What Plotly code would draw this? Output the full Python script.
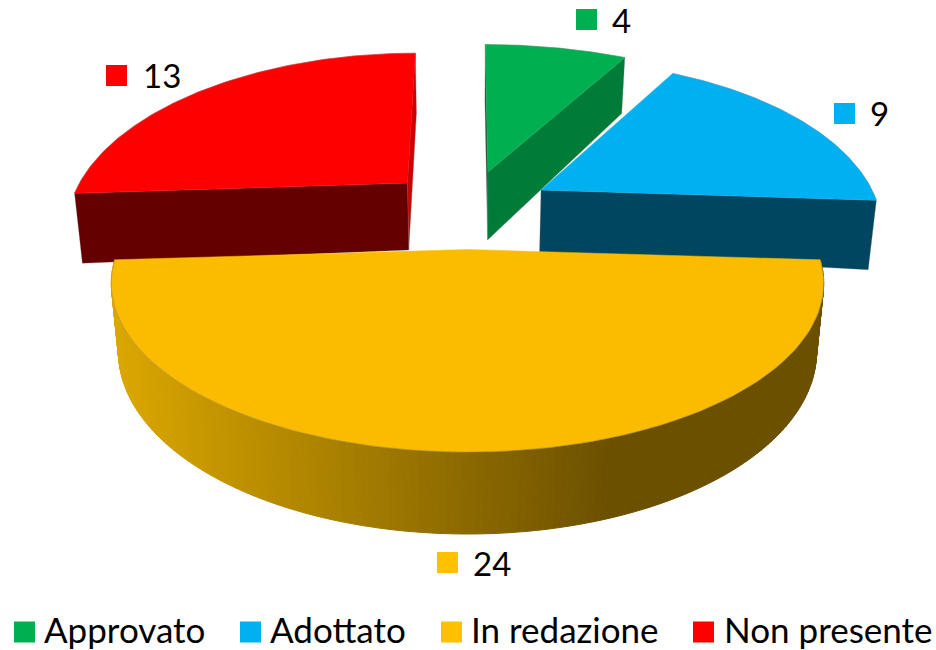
import numpy as np
import plotly.graph_objects as go

categories = ["Approvato", "Adottato", "In redazione", "Non presente"]
values = [4, 9, 24, 13]
top_colors = ["#00B050", "#00B0F0", "#FBBC00", "#FF0000"]
key_colors = ["#00B050", "#00B0F0", "#FFC000", "#FF0000"]
side_colors = ["#007C38", "#004660", None, "#640000"]

# Projection of each (exploded) slice: centre, radii, perspective, vertical-edge lean
geo = {
    "Approvato":    dict(cx=488.0, cy=172.0, R=350, H=158, k=0.24, s=-3.4),
    "Adottato":     dict(cx=541.0, cy=190.0, R=331, H=161, k=0.24, s=0.0),
    "In redazione": dict(cx=467.5, cy=249.5, R=349, H=162, k=0.20, s=0.0),
    "Non presente": dict(cx=407.5, cy=183.0, R=328, H=161, k=0.24, s=9.7),
}
LEAN = 0.02
VX = 467.0

total = sum(values)
ends = np.cumsum(values) / total * 2 * np.pi
starts = np.concatenate([[0], ends[:-1]])
ang = {c: (a, b) for c, a, b in zip(categories, starts, ends)}


def proj(name, a):
    g = geo[name]
    a = np.asarray(a, dtype=float)
    u, v = np.sin(a), np.cos(a)
    w = 1 + g["k"] * v
    return g["cx"] + (g["R"] * u + g["s"] * v) / w, g["cy"] - g["H"] * v / w


def down(x, y, d):
    return x - LEAN * (x - VX), y + d


fig = go.Figure()
EDGE = "rgba(120,120,120,0.35)"


def poly(xs, ys, fill, name, line=None, width=0.8):
    fig.add_trace(go.Scatter(
        x=list(xs), y=list(ys), mode="lines", fill="toself", fillcolor=fill,
        line=dict(color=line or fill, width=width), hoverinfo="skip",
        showlegend=False, name=name))


def top(name, color):
    a0, a1 = ang[name]
    t = np.linspace(a0, a1, 120)
    ax, ay = proj(name, t)
    g = geo[name]
    poly([g["cx"], *ax, g["cx"]], [g["cy"], *ay, g["cy"]], color, name, width=0.5)
    fig.add_trace(go.Scatter(x=ax, y=ay, mode="lines", line=dict(color=EDGE, width=1),
                             hoverinfo="skip", showlegend=False, name=name))


def face(name, a, d_center, d_outer, color, edge=EDGE):
    g = geo[name]
    ox, oy = proj(name, a)
    bcx, bcy = down(g["cx"], g["cy"], d_center)
    box, boy = down(ox, oy, d_outer)
    poly([g["cx"], float(ox), float(box), bcx, g["cx"]],
         [g["cy"], float(oy), float(boy), bcy, g["cy"]], color, name, line=edge, width=0.8)


# Approvato
n = categories[0]
face(n, ang[n][0], 68, 56, "#1F5A3C")
face(n, ang[n][1], 68, 56, side_colors[0])
top(n, top_colors[0])

# Adottato
n = categories[1]
face(n, ang[n][1], 62, 69.5, side_colors[1])
top(n, top_colors[1])

# Non presente
n = categories[3]
face(n, ang[n][1] - 1e-6, 67, 60, "#CC0000", edge="rgba(150,60,60,0.5)")
face(n, ang[n][0], 67, 70, side_colors[3])
top(n, top_colors[3])

# In redazione: shaded curved wall
n = categories[2]
g = geo[n]
t = np.linspace(ang[n][0], ang[n][1], 181)
tx, ty = proj(n, t)
w = 1 + g["k"] * np.cos(t)
bx, by = down(tx, ty, 65.6 / w)
c0 = np.array([0xDB, 0xA7, 0x00])
c1 = np.array([0x6B, 0x50, 0x00])
for i in range(len(t) - 1):
    xm = (tx[i] + tx[i + 1]) / 2
    f = np.clip((xm - 115) / (615 - 115), 0, 1)
    c = c0 + (c1 - c0) * f
    col = "rgb(%d,%d,%d)" % tuple(c)
    poly([tx[i], tx[i + 1], bx[i + 1], bx[i], tx[i]],
         [ty[i], ty[i + 1], by[i + 1], by[i], ty[i]], col, n, width=1)
top(n, top_colors[2])

# Keys and labels
FONT = "Lato, Carlito, Calibri, sans-serif"
SIZE = 33
LEG_SIZE = 35
value_keys = {0: (586.5, 19.5), 1: (844.5, 113.5), 2: (447.5, 562.5), 3: (116.5, 75.5)}
value_text = {0: (610, 19.5), 1: (868, 112.5), 2: (471, 562.5), 3: (141, 74.5)}
legend_keys = [24.5, 250.5, 451.5, 703.5]
legend_text = [42, 268, 469, 722]
LEG_KEY_Y = 632
LEG_Y = 629

for i, c in enumerate(categories):
    fig.add_trace(go.Scatter(
        x=[value_keys[i][0], legend_keys[i]], y=[value_keys[i][1], LEG_KEY_Y],
        mode="markers", marker=dict(symbol="square", size=21, color=key_colors[i], line=dict(width=0)),
        name=c, showlegend=False, hoverinfo="skip"))
    fig.add_annotation(x=value_text[i][0], y=value_text[i][1], text=str(values[i]),
                       showarrow=False, xanchor="left", yanchor="middle",
                       font=dict(family=FONT, size=SIZE, color="#000000"))
    fig.add_annotation(x=legend_text[i], y=LEG_Y, text=c,
                       showarrow=False, xanchor="left", yanchor="middle",
                       font=dict(family=FONT, size=LEG_SIZE, color="#000000"))

fig.update_layout(
    width=936, height=650, margin=dict(l=0, r=0, t=0, b=0),
    paper_bgcolor="white", plot_bgcolor="white", showlegend=False,
    xaxis=dict(range=[0, 936], visible=False, fixedrange=True),
    yaxis=dict(range=[650, 0], visible=False, fixedrange=True),
)
fig.write_html("out.html", config=dict(displayModeBar=False),
               post_script="document.body.style.margin='0';document.body.style.overflow='hidden';")
